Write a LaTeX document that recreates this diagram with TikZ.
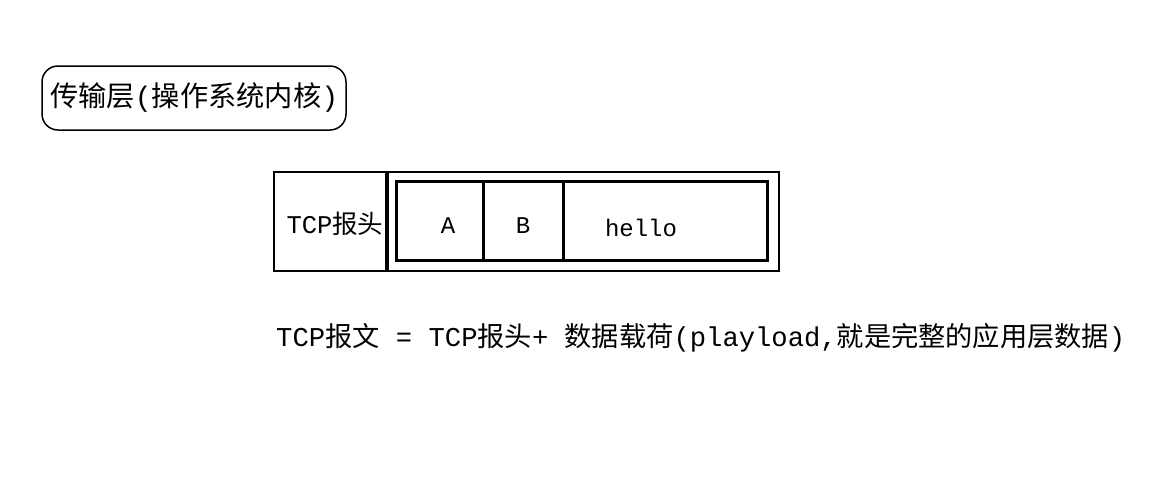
\documentclass[tikz,border=0pt]{standalone}
\usepackage{fontspec}
\usepackage{graphicx}
\setmainfont{Noto Sans CJK SC}
\newfontfamily\monofont{Liberation Mono}
\begin{document}
\begin{tikzpicture}[x=1pt,y=-1pt,
  thin box/.style={draw,line width=1.5pt},
  thick box/.style={draw,line width=3pt},
  lbl/.style={font=\fontsize{21}{24}\selectfont,inner sep=0pt}]
\useasboundingbox (0,0) rectangle (1158,485);
\node[draw,line width=1.5pt,rounded corners=16pt,minimum width=304pt,minimum height=64pt] (layer) at (194,98) {};
\node[lbl,anchor=west] (layert) at (50,98) {\resizebox{288pt}{!}{\mdseries 传输层{\monofont (}操作系统内核{\monofont )}}};
\node[thin box,minimum width=112pt,minimum height=99pt] (hdr) at (330,221.5) {};
\node[lbl] (hdrt) at (335,224) {\resizebox{97pt}{!}{{\monofont TCP}报头}};
\node[thin box,minimum width=391pt,minimum height=99pt] (outer) at (583.5,221.5) {};
\node[thick box,minimum width=371pt,minimum height=79pt] (inner) at (581.5,220.5) {};
\node[thick box,minimum width=80pt,minimum height=79pt] (bbox) at (523,220.5) {};
\node[lbl,font=\fontsize{24}{28}\selectfont] (a) at (448,226) {\monofont A};
\node[lbl,font=\fontsize{24}{28}\selectfont] (b) at (523,226) {\monofont B};
\node[lbl,font=\fontsize{24}{28}\selectfont] (h) at (641,228) {\monofont hello};
\node[lbl,anchor=west] (eq) at (276,338) {\resizebox{849pt}{!}{{\monofont TCP}报文{\monofont\ =\ TCP}报头{\monofont +\ }数据载荷{\monofont (playload,}就是完整的应用层数据{\monofont )}}};
\end{tikzpicture}
\end{document}
